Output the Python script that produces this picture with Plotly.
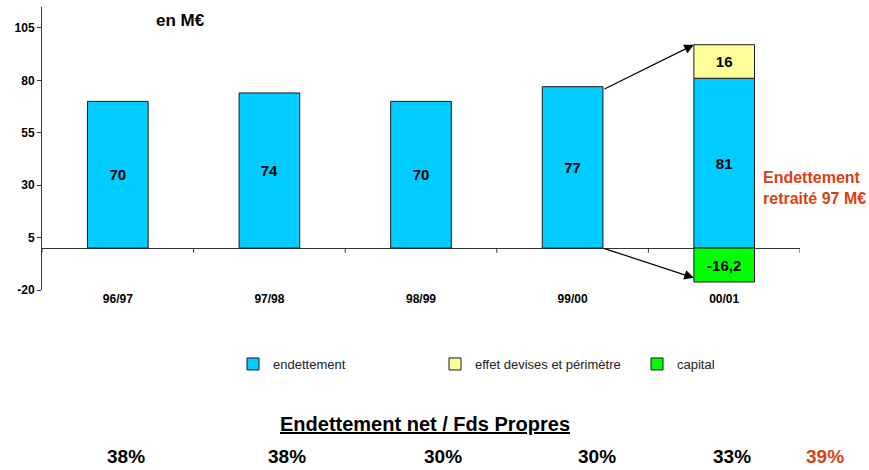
# -*- coding: utf-8 -*-
"""
Endettement net - en M€
"""
# Third party
import plotly.graph_objects as go

# data
categories = ["96/97", "97/98", "98/99", "99/00", "00/01"]
endettement = [70, 74, 70, 77, 81]
effet_devises = [None, None, None, None, 16]
capital = [None, None, None, None, -16.2]
y_ticks = [-20, 5, 30, 55, 80, 105]
ratio_labels = ["38%", "38%", "30%", "30%", "33%", "39%"]
retraite_total = 97

FONT = "Liberation Sans, Arial, sans-serif"
RED = "#D9410F"
BAR_WIDTH = 0.4


def value_text(values: list) -> list:
    # french decimal comma, plain hyphen for negatives
    return ["" if v is None else f"{v:g}".replace(".", ",") for v in values]


def bar_trace(name: str, values: list, color: str) -> go.Bar:
    return go.Bar(x=list(range(len(categories))),
                  y=values,
                  name=name,
                  width=BAR_WIDTH,
                  marker={"color": color,
                          "line": {"color": "#1a1a1a", "width": 1}},
                  text=value_text(values),
                  textposition="inside",
                  insidetextanchor="middle",
                  textangle=0,
                  textfont={"family": FONT, "size": 15,
                            "color": "black", "weight": "bold"},
                  hoverinfo="skip")


figure = go.Figure()
figure.add_trace(bar_trace("endettement", endettement, "#00CCFF"))
figure.add_trace(bar_trace("effet devises et périmètre", effet_devises, "#FFFF99"))
figure.add_trace(bar_trace("capital", capital, "#00FF00"))

figure.update_layout(width=869,
                     height=470,
                     barmode="relative",
                     plot_bgcolor="white",
                     paper_bgcolor="white",
                     margin={"l": 42, "r": 69, "t": 7, "b": 180,
                             "autoexpand": False},
                     font={"family": FONT, "color": "black"},
                     legend={"orientation": "h",
                             "x": 0.252, "xanchor": "left",
                             "y": 0.2255, "yanchor": "middle",
                             "yref": "container",
                             "entrywidth": 157,
                             "font": {"family": FONT, "size": 13,
                                      "color": "#222222"},
                             "traceorder": "normal"},
                     showlegend=True)

figure.update_xaxes(range=[-0.5, len(categories) - 0.5],
                    tickvals=list(range(len(categories))),
                    ticktext=categories,
                    ticks="",
                    showline=False,
                    showgrid=False,
                    zeroline=False,
                    automargin=False,
                    tickfont={"family": FONT, "size": 12, "weight": "bold"})

figure.update_yaxes(range=[-20, 115],
                    tickvals=y_ticks,
                    ticktext=[str(v) for v in y_ticks],
                    ticks="outside",
                    ticklen=4,
                    tickcolor="#333333",
                    showline=True,
                    linecolor="#333333",
                    linewidth=1,
                    showgrid=False,
                    zeroline=True,
                    zerolinecolor="#333333",
                    zerolinewidth=1,
                    automargin=False,
                    tickfont={"family": FONT, "size": 12, "weight": "bold"})

# tick marks between categories on the zero line
for i in range(len(categories) + 1):
    figure.add_shape(type="line",
                     x0=i - 0.5, x1=i - 0.5,
                     y0=0, y1=-2.2,
                     xref="x", yref="y",
                     line={"color": "#333333", "width": 1})

# arrows from 99/00 to the 00/01 stacked bar
last = len(categories) - 1
figure.add_annotation(x=last - BAR_WIDTH / 2, y=endettement[last] + effet_devises[last],
                      ax=last - 1 + BAR_WIDTH / 2, ay=endettement[last - 1] - 1.5,
                      xref="x", yref="y", axref="x", ayref="y",
                      showarrow=True, arrowhead=2, arrowsize=1.6,
                      arrowwidth=1.2, arrowcolor="black", text="")
figure.add_annotation(x=last - BAR_WIDTH / 2, y=capital[last] + 2,
                      ax=last - 1 + BAR_WIDTH / 2, ay=0,
                      xref="x", yref="y", axref="x", ayref="y",
                      showarrow=True, arrowhead=2, arrowsize=1.6,
                      arrowwidth=1.2, arrowcolor="black", text="")

figure.add_annotation(x=0.148, y=108.6, xref="paper", yref="y",
                      text="<b>en M€</b>", showarrow=False,
                      xanchor="left", yanchor="middle",
                      font={"family": FONT, "size": 17, "color": "black"})

figure.add_annotation(x=0.949, y=28.5, xref="paper", yref="y",
                      text=f"<b>Endettement<br>retraité {retraite_total} M€</b>",
                      showarrow=False, xanchor="left", yanchor="middle",
                      align="left",
                      font={"family": FONT, "size": 16, "color": RED})

figure.add_annotation(x=0.505, y=-0.473, xref="paper", yref="paper",
                      text="<b><u>Endettement net / Fds Propres</u></b>",
                      showarrow=False, xanchor="center", yanchor="middle",
                      font={"family": FONT, "size": 20, "color": "black"})

ratio_x = [0.111, 0.323, 0.529, 0.732, 0.910, 1.033]
for i, label in enumerate(ratio_labels):
    color = RED if i == len(ratio_labels) - 1 else "black"
    figure.add_annotation(x=ratio_x[i], y=-0.590, xref="paper", yref="paper",
                          text=f"<b>{label}</b>", showarrow=False,
                          xanchor="center", yanchor="middle", borderpad=0,
                          font={"family": FONT, "size": 19, "color": color})

figure.write_html("out.html",
                  config={"displayModeBar": False},
                  post_script="document.body.style.margin='0';")
